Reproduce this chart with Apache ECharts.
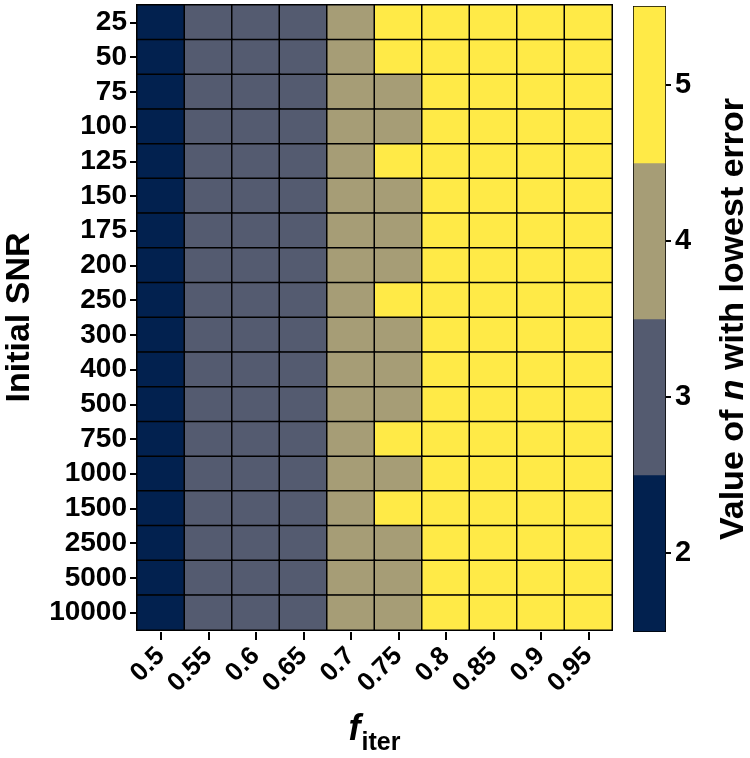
<!DOCTYPE html>
<html>
<head>
<meta charset="utf-8">
<script src="https://cdn.jsdelivr.net/npm/echarts@6/dist/echarts.min.js"></script>
<style>html,body{margin:0;padding:0;background:#fff}#c{width:750px;height:758px}</style>
</head>
<body>
<div id="c"></div>
<script>
const fIter = ['0.5','0.55','0.6','0.65','0.7','0.75','0.8','0.85','0.9','0.95'];
const snr = ['25','50','75','100','125','150','175','200','250','300','400','500','750','1000','1500','2500','5000','10000'];
// best n per row (SNR), columns follow fIter
const bestN = [
  [2,3,3,3,4,5,5,5,5,5],
  [2,3,3,3,4,5,5,5,5,5],
  [2,3,3,3,4,4,5,5,5,5],
  [2,3,3,3,4,4,5,5,5,5],
  [2,3,3,3,4,5,5,5,5,5],
  [2,3,3,3,4,4,5,5,5,5],
  [2,3,3,3,4,4,5,5,5,5],
  [2,3,3,3,4,4,5,5,5,5],
  [2,3,3,3,4,5,5,5,5,5],
  [2,3,3,3,4,4,5,5,5,5],
  [2,3,3,3,4,4,5,5,5,5],
  [2,3,3,3,4,4,5,5,5,5],
  [2,3,3,3,4,5,5,5,5,5],
  [2,3,3,3,4,4,5,5,5,5],
  [2,3,3,3,4,5,5,5,5,5],
  [2,3,3,3,4,4,5,5,5,5],
  [2,3,3,3,4,4,5,5,5,5],
  [2,3,3,3,4,4,5,5,5,5]
];
const legendValues = [2,3,4,5];
const legendLabels = ['2','3','4','5'];
const colors = {2:'#02214f',3:'#545b70',4:'#a69d76',5:'#ffea47'};

const data = [];
bestN.forEach((row, r) => row.forEach((v, c) => data.push([c, r, v])));
const barData = legendValues.map((v, i) => [0, i, v]);

const FF = '"Liberation Sans", Arial, sans-serif';
const chart = echarts.init(document.getElementById('c'), null, {renderer:'canvas'});
chart.setOption({
  animation: false,
  backgroundColor: '#fff',
  grid: [
    {left:137, right:138, top:5, bottom:128, show:true, borderColor:'#000', borderWidth:2, backgroundColor:'transparent', outerBoundsMode:'none', containLabel:false},
    {left:634, width:31, top:7, bottom:127, show:true, borderColor:'#000', borderWidth:2, backgroundColor:'transparent', outerBoundsMode:'none', containLabel:false}
  ],
  visualMap: {
    type:'piecewise', show:false, seriesIndex:[0,1],
    pieces: legendValues.map(v => ({value:v, color:colors[v]}))
  },
  xAxis: [
    {
      type:'category', data:fIter, gridIndex:0, offset:2,
      axisLine:{show:false},
      axisTick:{show:true, alignWithLabel:true, interval:0, length:8, lineStyle:{color:'#000', width:2}},
      axisLabel:{interval:0, hideOverlap:false, rotate:45, margin:20, fontSize:26, fontWeight:'bold', color:'#000', fontFamily:FF},
      splitLine:{show:false},
      name:'{f|f}{s|iter}', nameLocation:'middle', nameGap:80,
      nameTextStyle:{
        rich:{
          f:{fontSize:36, fontWeight:'bold', fontStyle:'italic', fontFamily:FF, color:'#000', padding:[0,1,8,0], verticalAlign:'bottom'},
          s:{fontSize:25, fontWeight:'bold', fontFamily:FF, color:'#000', verticalAlign:'bottom'}
        }
      }
    },
    {type:'category', data:['c'], gridIndex:1, show:false}
  ],
  yAxis: [
    {
      type:'category', data:snr, inverse:true, gridIndex:0,
      axisLine:{show:true, lineStyle:{color:'#000', width:2}},
      axisTick:{show:true, alignWithLabel:true, interval:0, length:7, lineStyle:{color:'#000', width:2}},
      axisLabel:{interval:0, hideOverlap:false, margin:10, fontSize:28, fontWeight:'bold', color:'#000', fontFamily:FF},
      splitLine:{show:false},
      name:'Initial SNR', nameLocation:'middle', nameGap:100, nameRotate:90,
      nameTextStyle:{fontSize:34, fontWeight:'bold', color:'#000', fontFamily:FF}
    },
    {
      type:'category', data:legendLabels, gridIndex:1, position:'right',
      axisLine:{show:false},
      axisTick:{show:true, alignWithLabel:true, interval:0, length:6, lineStyle:{color:'#000', width:2}},
      axisLabel:{interval:0, margin:10, fontSize:29, fontWeight:'bold', color:'#000', fontFamily:FF},
      splitLine:{show:false},
      name:'{a|Value of }{i|n}{a| with lowest error}', nameLocation:'middle', nameGap:52, nameRotate:90,
      nameTextStyle:{
        rich:{
          a:{fontSize:34, fontWeight:'bold', color:'#000', fontFamily:FF},
          i:{fontSize:34, fontWeight:'bold', fontStyle:'italic', color:'#000', fontFamily:FF}
        }
      }
    }
  ],
  series: [
    {
      type:'heatmap', xAxisIndex:0, yAxisIndex:0, data:data,
      itemStyle:{borderColor:'#000', borderWidth:1.5},
      label:{show:false}, emphasis:{disabled:true}
    },
    {
      type:'heatmap', xAxisIndex:1, yAxisIndex:1, data:barData,
      itemStyle:{borderWidth:0},
      label:{show:false}, emphasis:{disabled:true}
    }
  ]
});
</script>
</body>
</html>
